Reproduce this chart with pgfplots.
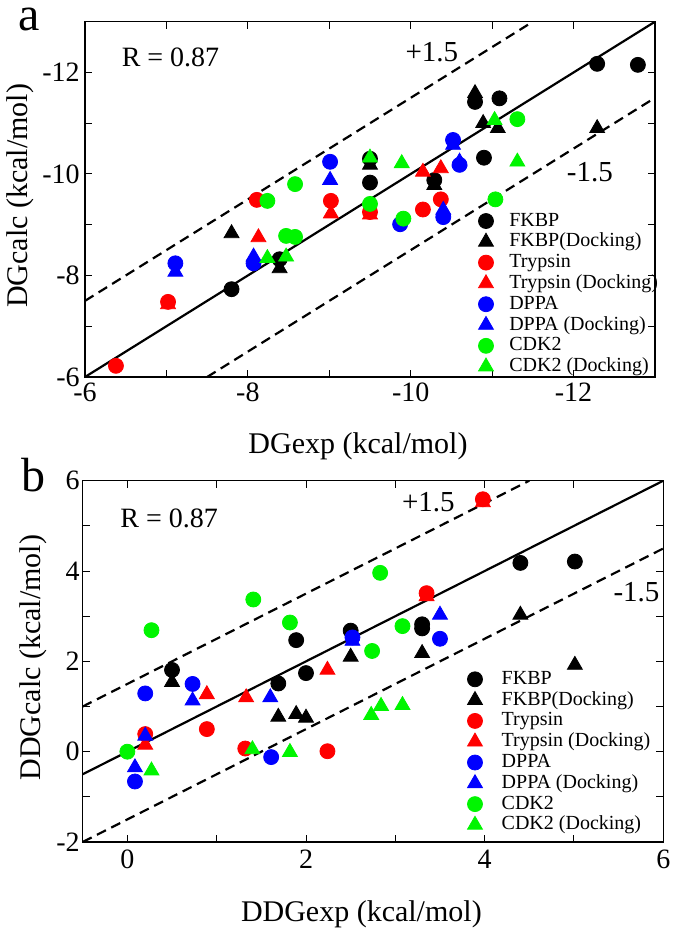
\documentclass[border=0pt]{standalone}
\usepackage{pgfplots}
\pgfplotsset{compat=1.18}
\usepackage{fontspec}
\setmainfont{Liberation Serif}
\definecolor{cgreen}{RGB}{0,245,0}
\definecolor{cred}{RGB}{255,0,0}
\definecolor{cblue}{RGB}{0,0,255}

\pgfplotsset{
  myaxis/.style={
    scale only axis,
    axis line style={line width=0.6pt},
    tick align=inside,
    major tick length=3.5pt, minor tick length=3.5pt,
    every tick/.style={line width=0.5pt, black},
    /pgf/number format/assume math mode=true,
    ticklabel style={font=\fontsize{14}{16}\selectfont},
    label style={font=\fontsize{15}{18}\selectfont},
    yticklabel style={anchor=east, inner sep=0pt},
    xticklabel style={anchor=base, inner sep=0pt},
    legend style={draw=none, fill=none, font=\fontsize{10}{12}\selectfont,
      inner sep=0pt, outer sep=0pt, row sep=1.4pt,
      nodes={inner sep=0pt, text height=7pt, text depth=2pt}},
    legend cell align=left,
    legend image code/.code={\path[draw=none,fill=none] (-4pt,-3pt) (4pt,3pt); \draw[##1] plot coordinates {(0pt,0pt)};},
  },
  refline/.style={black, line width=1.1pt, forget plot},
  dline/.style={black, line width=1.1pt, dash pattern=on 5pt off 3pt, forget plot},
  sC/.style={only marks, mark=*, mark size=3.75pt},
  sT/.style={only marks, mark=triangle*, mark size=4.3pt},
}

\begin{document}
\begin{tikzpicture}
\useasboundingbox (0,0) rectangle (338.5pt,467pt);
\node[font=\fontsize{24}{28}\selectfont, anchor=base, inner sep=0pt] at (14.5pt,451.5pt) {a};
\node[font=\fontsize{24}{28}\selectfont, anchor=base, inner sep=0pt] at (17pt,221.15pt) {b};

% ---------------- panel a ----------------
\begin{axis}[myaxis,
  at={(42.5pt,278.5pt)}, anchor=south west,
  width=285pt, height=177.65pt,
  xmin=-13, xmax=-6, ymin=-13, ymax=-6,
  x dir=reverse, y dir=reverse,
  xtick={-6,-8,-10,-12}, xticklabels={-6,-8,-10,-12},
  ytick={-6,-8,-10,-12}, yticklabels={-6,-8,-10,-12},
  minor xtick={-7,-9,-11}, minor ytick={-7,-9,-11},
  xticklabel style={yshift=-12.35pt},
  yticklabel style={xshift=-2.5pt},
  xlabel={DGexp (kcal/mol)}, ylabel={DGcalc (kcal/mol)},
  xlabel style={at={(axis description cs:0.479,-0.2148)}, anchor=base},
  ylabel style={at={(axis description cs:-0.1,0.51)}, anchor=base},
  legend style={at={(axis description cs:0.6895,0.4643)}, anchor=north west, column sep=7.65pt},
]
\addplot[refline] coordinates {(-6,-6) (-13,-13)};
\addplot[dline] coordinates {(-6,-7.5) (-11.5,-13)};
\addplot[dline] coordinates {(-7.5,-6) (-13,-11.5)};

\addplot[sC, black] coordinates {(-7.80,-7.73) (-8.39,-8.32) (-9.50,-9.83) (-9.50,-10.30) (-10.29,-9.88) (-10.79,-11.42) (-11.09,-11.49) (-10.90,-10.32) (-12.29,-12.17) (-12.79,-12.15)};
\addlegendentry{FKBP}
\addplot[sT, black] coordinates {(-7.80,-8.83) (-8.39,-8.14) (-9.50,-10.18) (-10.29,-9.78) (-10.79,-11.59) (-10.89,-11.00) (-11.07,-10.90) (-12.29,-10.90)};
\addlegendentry{FKBP(Docking)}
\addplot[sC, cred] coordinates {(-6.38,-6.22) (-7.02,-7.48) (-8.11,-9.49) (-9.02,-9.47) (-9.50,-9.25) (-10.15,-9.30) (-10.37,-9.50)};
\addlegendentry{Trypsin}
\addplot[sT, cred] coordinates {(-7.02,-7.43) (-8.13,-8.75) (-9.02,-9.22) (-9.50,-9.20) (-10.15,-10.04) (-10.37,-10.11)};
\addlegendentry{Trypsin (Docking)}
\addplot[sC, cblue] coordinates {(-7.11,-8.24) (-8.07,-8.24) (-9.01,-10.24) (-9.87,-9.01) (-10.40,-9.15) (-10.52,-10.67) (-10.60,-10.18)};
\addlegendentry{DPPA}
\addplot[sT, cblue] coordinates {(-7.11,-8.07) (-8.07,-8.37) (-9.01,-9.88) (-10.40,-9.29) (-10.52,-10.57) (-10.60,-10.24)};
\addlegendentry{DPPA (Docking)}
\addplot[sC, cgreen] coordinates {(-8.24,-9.47) (-8.47,-8.78) (-8.58,-8.76) (-8.58,-9.80) (-9.50,-9.41) (-9.91,-9.12) (-11.04,-9.50) (-11.31,-11.08)};
\addlegendentry{CDK2}
\addplot[sT, cgreen] coordinates {(-8.24,-8.34) (-8.47,-8.37) (-9.50,-10.32) (-9.89,-10.21) (-11.03,-11.06) (-11.31,-10.24)};
\addlegendentry{CDK2 (Docking)}

\node[font=\fontsize{14}{16}\selectfont, anchor=base, inner sep=0pt] at (axis cs:-7.05,-12.11) {R = 0.87};
\node[font=\fontsize{14.5}{16}\selectfont, anchor=base, inner sep=0pt] at (axis cs:-10.26,-12.21) {+1.5};
\node[font=\fontsize{14.5}{16}\selectfont, anchor=base, inner sep=0pt] at (axis cs:-12.20,-9.85) {-1.5};
\end{axis}

% ---------------- panel b ----------------
\begin{axis}[myaxis,
  at={(41.35pt,46pt)}, anchor=south west,
  width=290.3pt, height=180.65pt,
  xmin=-0.5, xmax=6, ymin=-2, ymax=6,
  xtick={0,2,4,6}, xticklabels={0,2,4,6},
  ytick={-2,0,2,4,6}, yticklabels={-2,0,2,4,6},
  minor xtick={1,3,5}, minor ytick={-1,1,3,5},
  xticklabel style={yshift=-13.15pt},
  yticklabel style={xshift=-1.35pt},
  xlabel={DDGexp (kcal/mol)}, ylabel={DDGcalc (kcal/mol)},
  xlabel style={at={(axis description cs:0.48,-0.2206)}, anchor=base},
  ylabel style={at={(axis description cs:-0.0735,0.51)}, anchor=base},
  legend style={at={(axis description cs:0.6619,0.4752)}, anchor=north west, column sep=9.35pt},
]
\addplot[refline] coordinates {(-0.5,-0.5) (6,6)};
\addplot[dline] coordinates {(-0.5,1) (4.5,6)};
\addplot[dline] coordinates {(-0.5,-2) (6,4.5)};

\addplot[sC, black] coordinates {(0.50,1.81) (1.69,1.51) (1.89,2.47) (2.00,1.74) (2.50,2.68) (3.30,2.73) (3.30,2.82) (4.40,4.18) (5.01,4.21)};
\addlegendentry{FKBP}
\addplot[sT, black] coordinates {(0.50,1.54) (1.69,0.77) (1.89,0.83) (2.00,0.75) (2.50,2.10) (3.30,2.18) (4.40,3.03) (5.01,1.92)};
\addlegendentry{FKBP(Docking)}
\addplot[sC, cred] coordinates {(0.20,0.39) (0.89,0.50) (1.32,0.07) (2.24,0.01) (3.35,3.51) (3.98,5.59)};
\addlegendentry{Trypsin}
\addplot[sT, cred] coordinates {(0.20,0.15) (0.89,1.27) (1.33,1.20) (2.24,1.81) (3.35,3.44) (3.98,5.52)};
\addlegendentry{Trypsin (Docking)}
\addplot[sC, cblue] coordinates {(0.085,-0.66) (0.20,1.29) (0.73,1.50) (1.61,-0.12) (2.52,2.53) (3.50,2.50)};
\addlegendentry{DPPA}
\addplot[sT, cblue] coordinates {(0.085,-0.35) (0.20,0.35) (0.73,1.13) (1.60,1.20) (2.52,2.45) (3.50,3.03)};
\addlegendentry{DPPA (Docking)}
\addplot[sC, cgreen] coordinates {(0.00,0.00) (0.27,2.69) (1.41,3.37) (1.82,2.86) (2.74,2.23) (2.83,3.96) (3.08,2.78)};
\addlegendentry{CDK2}
\addplot[sT, cgreen] coordinates {(0.27,-0.42) (1.40,0.05) (1.82,-0.01) (2.73,0.81) (2.84,1.01) (3.08,1.03)};
\addlegendentry{CDK2 (Docking)}

\node[font=\fontsize{14}{16}\selectfont, anchor=base, inner sep=0pt] at (axis cs:0.468,4.97) {R = 0.87};
\node[font=\fontsize{14.5}{16}\selectfont, anchor=base, inner sep=0pt] at (axis cs:3.37,5.31) {+1.5};
\node[font=\fontsize{14.5}{16}\selectfont, anchor=base, inner sep=0pt] at (axis cs:5.70,3.32) {-1.5};
\end{axis}
\end{tikzpicture}
\end{document}
